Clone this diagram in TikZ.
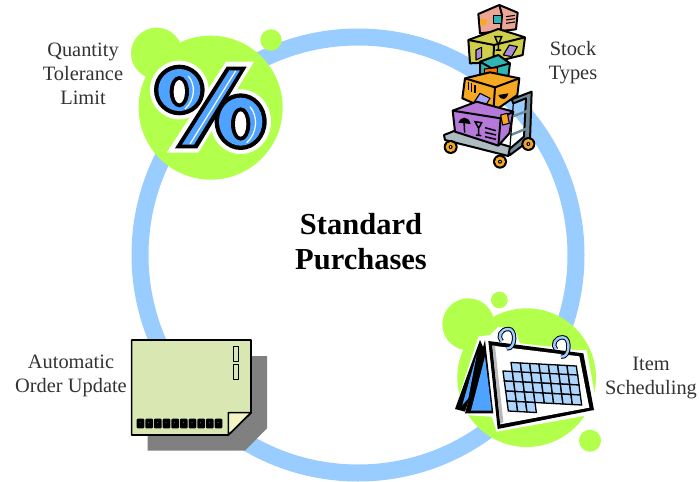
\documentclass[tikz,border=0pt]{standalone}
\usepackage{fontspec}
\setmainfont{Liberation Serif}
\definecolor{ringblue}{HTML}{99CCFF}
\definecolor{lime}{HTML}{B2FF4C}
\definecolor{pctblue}{HTML}{4DA3FF}
\definecolor{cardgreen}{HTML}{D9E8B3}
\definecolor{foldyellow}{HTML}{F4F4C4}
\definecolor{txt}{HTML}{333333}
\definecolor{boxpink}{HTML}{EDA696}
\definecolor{boxolive}{HTML}{CFCF4A}
\definecolor{boxteal}{HTML}{2FB5B5}
\definecolor{boxorange}{HTML}{F7A823}
\definecolor{boxpurple}{HTML}{B57AD9}
\definecolor{tagviolet}{HTML}{A78BD8}
\definecolor{steel}{HTML}{6F8A96}
\definecolor{deck}{HTML}{AEBBC0}
\tikzset{
  lbl/.style={font=\fontsize{20.4}{24}\selectfont, text=txt, align=center, inner sep=0pt},
  titlelbl/.style={font=\fontsize{30.5}{35}\selectfont\bfseries, text=black, align=center, inner sep=0pt},
  blob/.style={fill=lime, draw=none},
  ink/.style={draw=black, line width=1.6pt, line join=round},
  stockink/.style={draw=black, line width=2pt, line join=round},
  inkthin/.style={draw=black, line width=1.1pt, line join=round},
  zoomed/.style={x=0.33333pt, y=-0.33333pt}
}
\begin{document}
\begin{tikzpicture}[x=1pt,y=-1pt]
\useasboundingbox (0,0) rectangle (699,482);
\fill[white] (0,0) rectangle (699,482);
% ring
\draw[ringblue, line width=17pt] (358,255) circle[radius=218];

% ---------- percent
\begin{scope}[shift={(120,10)}, zoomed]
  \fill[blob] (272,293) circle[radius=216];
  \fill[blob] (110,130) circle[radius=77];
  \fill[blob] (453,90) circle[radius=32];
  % white halo
  \fill[white] (178,240) ellipse[x radius=88, y radius=88];
  \fill[white] (362,335) ellipse[x radius=91, y radius=97];
  \fill[white] (318,155) -- (402,155) -- (235,428) -- (140,428) -- cycle;
  % left 0
  \fill[black] (178,240) ellipse[x radius=76, y radius=76];
  \fill[pctblue] (178,240) ellipse[x radius=63, y radius=63];
  \fill[black] (178,245) ellipse[x radius=29, y radius=47];
  \fill[white] (178,245) ellipse[x radius=17, y radius=35];
  \draw[white, line width=1.2pt] (205,198) .. controls (228,225) and (225,270) .. (195,297);
  % right 0
  \fill[black] (362,335) ellipse[x radius=78, y radius=85];
  \fill[pctblue] (362,335) ellipse[x radius=65, y radius=72];
  \fill[black] (362,342) ellipse[x radius=29, y radius=50];
  \fill[white] (362,342) ellipse[x radius=17, y radius=38];
  \draw[white, line width=1.2pt] (390,290) .. controls (415,320) and (412,370) .. (380,398);
  % slash
  \fill[black] (320,170) -- (380,170) -- (232,415) -- (165,415) -- cycle;
  \fill[pctblue] (328,181) -- (360,181) -- (222,404) -- (186,404) -- cycle;
  \draw[white, line width=1.2pt] (347,183) -- (210,402);
\end{scope}

% ---------- stock
\begin{scope}[shift={(430,0)}, zoomed]
  % top pink box
  \filldraw[fill=boxpink, stockink] (145,42) -- (208,15) -- (263,38) -- (258,88) -- (150,100) -- cycle;
  \draw[stockink] (208,15) -- (216,45) -- (212,95);
  \fill[boxorange] (150,58) rectangle (172,75);
  \filldraw[fill=boxteal, inkthin] (190,47) rectangle (215,70);
  \draw[inkthin] (228,50) -- (255,46) (228,60) -- (255,56) (228,70) -- (255,66);
  % olive box
  \filldraw[fill=boxolive, stockink] (115,120) -- (205,87) -- (285,112) -- (278,165) -- (190,187) -- (120,190) -- cycle;
  \draw[stockink] (115,120) -- (192,135) -- (285,112) (192,135) -- (190,187);
  \filldraw[fill=tagviolet, inkthin] (138,150) -- (155,142) -- (155,172) -- (138,180) -- cycle;
  \filldraw[fill=tagviolet, inkthin] (220,165) -- (238,135) -- (262,140) -- (245,170) -- cycle;
  \draw[black, line width=1.5pt] (195,110) -- (215,110) -- (205,135) -- cycle (205,135) -- (205,150) (197,150) -- (213,150);
  % teal box
  \filldraw[fill=boxteal, stockink] (150,185) -- (205,165) -- (240,190) -- (235,228) -- (185,255) -- (150,235) -- cycle;
  \draw[stockink] (150,185) -- (185,205) -- (240,190) (185,205) -- (185,255);
  \filldraw[fill=orange!90!red, inkthin] (163,207) -- (202,203) -- (202,222) -- (163,226) -- cycle;
  % orange box
  \filldraw[fill=boxorange, stockink] (105,235) -- (180,217) -- (268,235) -- (262,285) -- (190,335) -- (97,295) -- cycle;
  \draw[stockink] (105,235) -- (195,262) -- (268,235) (195,262) -- (190,335);
  \draw[black, line width=1.5pt] (115,245) -- (115,270) (125,250) -- (125,275) (135,255) -- (135,280);
  \filldraw[fill=blue!35!white, inkthin] (128,313) -- (150,280) -- (180,295) -- (160,328) -- cycle;
  \fill[black] (205,285) -- (235,280) .. controls (232,298) and (215,305) .. (205,285);
  % cart handle behind
  \filldraw[fill=steel, stockink] (245,298) -- (305,275) -- (300,420) -- (240,465) -- (235,450) -- (282,410) -- (288,295) -- (250,310) -- cycle;
  % platform
  \filldraw[fill=deck, stockink] (42,405) -- (75,392) -- (240,440) -- (235,468) -- (45,420) -- cycle;
  % purple box
  \filldraw[fill=boxpurple, stockink] (68,332) -- (140,305) -- (250,335) -- (238,400) -- (205,437) -- (75,395) -- cycle;
  \draw[stockink] (68,332) -- (212,355) -- (250,335) (212,355) -- (205,437);
  \fill[black] (85,368) .. controls (90,350) and (115,345) .. (122,372) -- cycle;
  \draw[black, line width=1.5pt] (102,365) -- (104,398) (135,365) -- (155,368) -- (146,385) -- cycle (146,385) -- (146,405) (138,405) -- (154,407);
  \draw[black, line width=1.5pt] (165,383) -- (198,392) (165,397) -- (198,405) (165,410) -- (198,418);
  \filldraw[fill=boxorange, inkthin] (212,345) -- (232,340) -- (238,370) -- (218,375) -- cycle;
  % handle rungs
  \draw[steel, line width=2.5pt] (245,350) -- (295,332) (242,405) -- (292,385);
  \draw[black, line width=1.2pt] (250,310) -- (240,440);
  % wheels
  \foreach \cx/\cy in {62/441, 295/432, 210/485}{
    \fill[black] (\cx,\cy) circle[radius=21];
    \fill[boxorange] (\cx,\cy) circle[radius=15];
    \fill[black] (\cx,\cy) circle[radius=6];
    \fill[white] (\cx,\cy) circle[radius=2.5];
  }
\end{scope}

% ---------- calendar
\begin{scope}[shift={(435,285)}, zoomed]
  \fill[blob] (275,278) circle[radius=208];
  \fill[blob] (100,118) circle[radius=78];
  \fill[blob] (193,45) circle[radius=25];
  \fill[blob] (465,467) circle[radius=33];
  % white halo
  \fill[white] (130,155) -- (165,150) -- (190,125) -- (240,135) -- (255,175) -- (345,185) -- (375,150) -- (405,170) -- (410,195) -- (455,195) -- (490,385) -- (185,440) -- (170,395) -- (90,390) -- (55,385) -- cycle;
  % back leaf
  \fill[black] (135,165) -- (60,372) -- (90,380) -- (150,200) -- cycle;
  \fill[pctblue] (125,210) -- (82,360) -- (100,340) -- cycle;
  \fill[black] (150,165) -- (90,385) -- (175,385) -- (172,360) -- cycle;
  \fill[pctblue] (150,215) -- (108,377) -- (170,377) -- cycle;
  % front page
  \fill[black] (160,168) -- (445,205) -- (477,375) -- (188,432) -- cycle;
  \fill[white] (172,182) -- (433,214) -- (463,368) -- (196,418) -- cycle;
  \fill[gray!55!white] (172,182) -- (180,182) -- (205,410) -- (196,418) -- cycle;
  % grid
  \foreach \r/\a/\b in {0/1/7, 1/0/7, 2/0/7, 3/0/7, 4/0/2}{
    \foreach \c in {\a,...,\b}{
      \pgfmathsetmacro{\px}{200+\c*28+\r*4}
      \pgfmathsetmacro{\py}{231+\c*1.5+\r*30+(\r>0?-3:0)}
      \filldraw[fill=ringblue!80!white, draw=black, line width=1.3pt] (\px,\py) -- ++(28,1.5) -- ++(4,30) -- ++(-28,-1.5) -- cycle;
    }
  }
  % rings
  \foreach \ox/\oy in {215/160, 378/185}{
    \draw[black, line width=4.4pt] (\ox,\oy+30) .. controls (\ox+28,\oy+35) and (\ox+30,\oy-30) .. (\ox+5,\oy-28) .. controls (\ox-18,\oy-28) and (\ox-28,\oy-5) .. (\ox-15,\oy+8);
    \draw[ringblue, line width=2.4pt] (\ox,\oy+30) .. controls (\ox+28,\oy+35) and (\ox+30,\oy-30) .. (\ox+5,\oy-28) .. controls (\ox-18,\oy-28) and (\ox-28,\oy-5) .. (\ox-15,\oy+8);
  }
\end{scope}

% ---------- card
\begin{scope}[shift={(120,330)}, zoomed]
  \fill[gray] (83,78) -- (441,78) -- (441,295) -- (375,362) -- (83,362) -- cycle;
  \filldraw[fill=cardgreen, ink] (35,30) -- (393,30) -- (393,248) -- (325,315) -- (35,315) -- cycle;
  \filldraw[fill=foldyellow, ink] (325,248) -- (393,248) -- (325,315) -- cycle;
  \filldraw[fill=cardgreen, inkthin] (341,50) rectangle (356,95);
  \filldraw[fill=cardgreen, inkthin] (341,103) rectangle (356,148);
  \foreach \i in {0,...,9}{
    \fill[black, rounded corners=1pt] ({50+\i*26},266) rectangle ++(23,29);
    \fill[gray] ({60+\i*26},278) circle[radius=1.5];
  }
\end{scope}

% ---------- text
\node[titlelbl] (title) at (361,241.5) {Standard\\Purchases};
\node[lbl] (qty) at (83,74) {Quantity\\Tolerance\\Limit};
\node[lbl] (stock) at (573,63) {Stock\\Types};
\node[lbl] (item) at (651,378) {Item\\Scheduling};
\node[lbl] (order) at (71,376) {Automatic\\Order Update};
\end{tikzpicture}
\end{document}
